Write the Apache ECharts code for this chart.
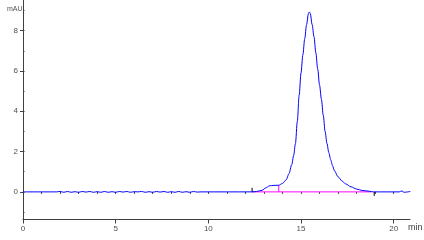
<!DOCTYPE html>
<html><head><meta charset="utf-8">
<script src="https://cdn.jsdelivr.net/npm/echarts@6/dist/echarts.min.js"></script>
<style>html,body{margin:0;padding:0;background:#fff}#c{width:424px;height:240px}</style>
</head><body><div id="c"></div>
<script>
// Chromatogram signal (min, mAU)
const signalTime = [0,1.8,2.0,2.2,2.4,2.6,2.8,3.0,3.2,3.4,3.6,3.8,4.0,4.2,4.4,4.6,4.8,5.0,5.2,5.4,5.6,5.8,6.0,6.2,6.4,6.6,6.8,7.0,7.2,7.4,7.6,7.8,8.0,8.2,8.4,8.6,8.8,9.0,9.2,9.4,9.6,12.36,12.6,12.9,13.1,13.3,13.5,13.8,14.0,14.2,14.35,14.5,14.6,14.7,14.8,14.9,15.0,15.1,15.2,15.3,15.4,15.45,15.5,15.6,15.7,15.8,15.9,16.0,16.1,16.2,16.3,16.4,16.5,16.6,16.7,16.8,17.0,17.2,17.4,17.7,18.0,18.3,18.7,18.9,20.3,20.45,20.55,20.9];
const signalValue = [0,0,0.02,-0.02,0.02,-0.02,0.01,-0.02,0.02,-0.01,0.02,-0.02,0.01,-0.02,0.02,-0.02,0.01,-0.02,0.02,-0.01,0.02,-0.02,0.01,0,0.02,-0.02,0.01,-0.02,0.02,-0.01,0.02,-0.02,0.01,-0.02,0.02,-0.02,0.01,-0.02,0.02,-0.01,0,0,0.02,0.08,0.2,0.3,0.32,0.33,0.42,0.6,0.9,1.35,1.8,2.4,3.5,4.8,5.9,6.8,7.6,8.3,8.85,8.93,8.85,8.3,7.7,6.9,6.1,5.3,4.6,3.8,3.0,2.4,1.95,1.6,1.3,1.05,0.75,0.55,0.4,0.25,0.14,0.07,0.03,0,0,0.05,-0.02,0.02];
// Integration baseline and drop line
const baseTime = [12.36,18.8];
const baseValue = [0,0];
const dropTime = [13.8,13.8];
const dropValue = [0,0.33];
// Peak start / end markers
const startMarkTime = [12.36,12.36];
const startMarkValue = [0,0.2];
const endMarkTime = [18.95,18.95];
const endMarkValue = [0,-0.2];
// Axis ticks
const xTicks = [0,5,10,15,20];
const xMinor = [0,1,2,3,4,5,6,7,8,9,10,11,12,13,14,15,16,17,18,19,20];
const yTicks = [0,2,4,6,8];
const yMinor = [-1,0,1,2,3,4,5,6,7,8,9];

const zip = (a,b)=>a.map((v,i)=>[v,b[i]]);
const axCol = '#404040';
const lblFont = {fontFamily:'Liberation Sans', fontSize:8, color:'#505050'};
const YMIN=-1.37, YMAX=9.52, XMIN=0, XMAX=20.88;
const chart = echarts.init(document.getElementById('c'));
chart.setOption({
  animation:false,
  grid:{left:23,right:14,top:0,bottom:20.5},
  xAxis:[
    {type:'value',min:XMIN,max:XMAX,position:'bottom',
     axisLine:{onZero:false,lineStyle:{color:axCol,width:1}},
     axisTick:{show:true,customValues:xTicks,length:4,lineStyle:{color:axCol}},
     axisLabel:{customValues:xTicks,margin:5,...lblFont},
     splitLine:{show:false}},
    {type:'value',min:XMIN,max:XMAX,position:'bottom',
     axisLine:{show:false},
     axisTick:{show:true,customValues:xMinor,length:2,lineStyle:{color:axCol}},
     axisLabel:{show:false},splitLine:{show:false}}
  ],
  yAxis:[
    {type:'value',min:YMIN,max:YMAX,
     axisLine:{show:true,onZero:false,lineStyle:{color:axCol,width:1}},
     axisTick:{show:true,inside:false,customValues:yTicks,length:3,lineStyle:{color:axCol}},
     axisLabel:{customValues:yTicks,margin:5,...lblFont},
     splitLine:{show:false}},
    {type:'value',min:YMIN,max:YMAX,
     axisLine:{show:false},
     axisTick:{show:true,customValues:yMinor,length:1.5,lineStyle:{color:axCol}},
     axisLabel:{show:false},splitLine:{show:false}}
  ],
  graphic:[
    {type:'text',left:7,top:6,style:{text:'mAU',fontFamily:'Liberation Sans',fontSize:7,fill:'#505050'}},
    {type:'text',left:408,top:223,style:{text:'min',fontFamily:'Liberation Sans',fontSize:9,fill:'#404040'}}
  ],
  series:[
    {type:'line',data:zip(baseTime,baseValue),symbol:'none',lineStyle:{color:'#ff00ff',width:1},z:2},
    {type:'line',data:zip(dropTime,dropValue),symbol:'none',lineStyle:{color:'#ff00ff',width:1},z:2},
    {type:'line',data:zip(signalTime,signalValue),symbol:'none',smooth:0.3,smoothMonotone:'x',lineStyle:{color:'#0000ff',width:1},z:3},
    {type:'line',data:zip(startMarkTime,startMarkValue),symbol:'none',lineStyle:{color:'#000',width:1},z:4},
    {type:'line',data:zip(endMarkTime,endMarkValue),symbol:'none',lineStyle:{color:'#000',width:1},z:4}
  ]
});
</script></body></html>
